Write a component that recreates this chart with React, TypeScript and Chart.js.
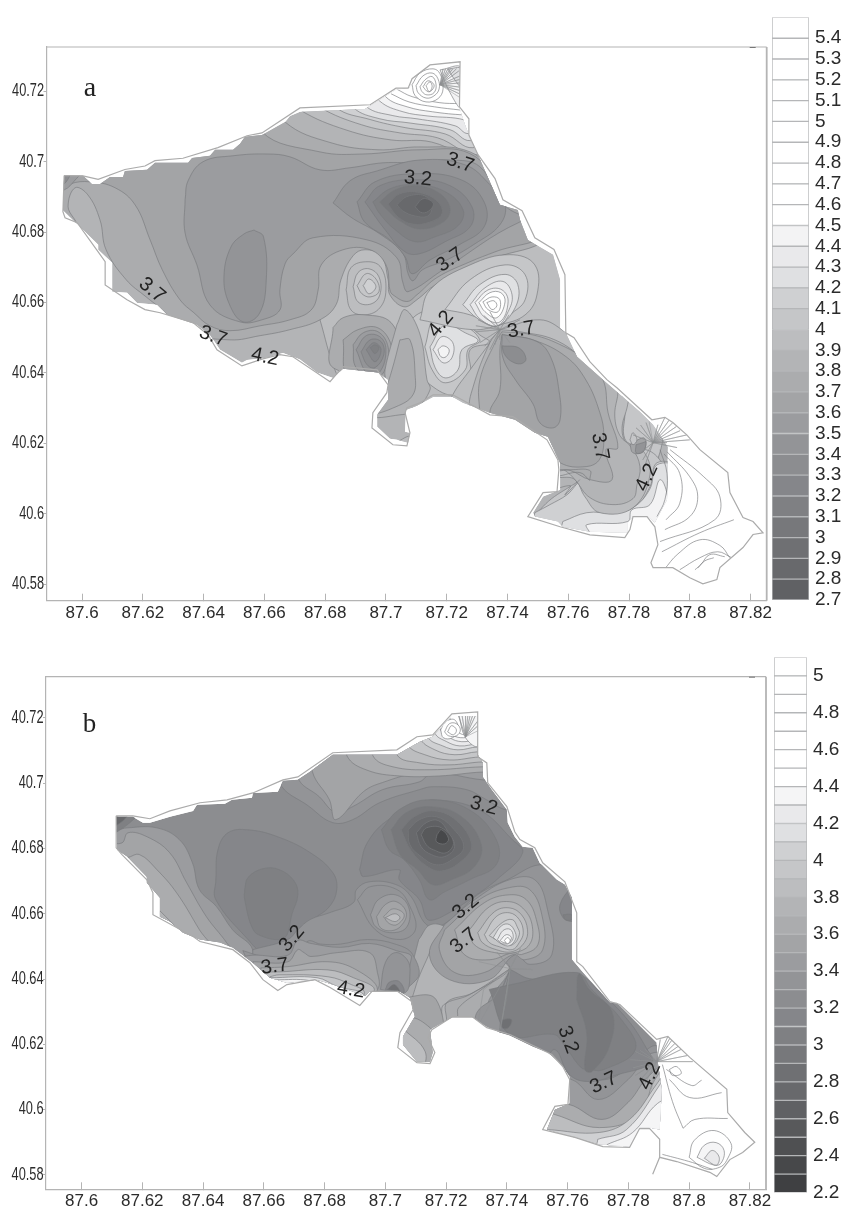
import React, { useEffect, useRef } from "react";
import { Chart, registerables } from "chart.js";

const lonTicks = [87.6, 87.62, 87.64, 87.66, 87.68, 87.7, 87.72, 87.74, 87.76, 87.78, 87.8, 87.82];
const latTicks = [40.58, 40.6, 40.62, 40.64, 40.66, 40.68, 40.7, 40.72];

const levelsA = [2.7,2.8,2.9,3,3.1,3.2,3.3,3.4,3.5,3.6,3.7,3.8,3.9,4,4.1,4.2,4.3,4.4,4.5,4.6,4.7,4.8,4.9,5,5.1,5.2,5.3,5.4];
const greysA = ["#606164","#68696c","#6f7073","#77787b","#7f8083","#85868a","#8c8d90","#939497","#9b9c9f","#a3a4a6","#abacae","#b3b4b6","#bcbdbf","#c5c6c8","#cfd0d2","#dfe0e2","#e9e9eb","#f3f3f4","#fff","#fff","#fff","#fff","#fff","#fff","#fff","#fff","#fff","#fff"];
const levelsB = [2.2,2.3,2.4,2.5,2.6,2.7,2.8,2.9,3,3.1,3.2,3.3,3.4,3.5,3.6,3.7,3.8,3.9,4,4.1,4.2,4.3,4.4,4.5,4.6,4.7,4.8,4.9,5];
const greysB = ["#3f4042","#47484a","#4f5052","#58595b","#606164","#68696c","#6f7073","#77787b","#7f8083","#85868a","#8c8d90","#939497","#9b9c9f","#a3a4a6","#abacae","#b3b4b6","#bcbdbf","#c5c6c8","#cfd0d2","#dfe0e2","#e9e9eb","#f5f5f6","#fff","#fff","#fff","#fff","#fff","#fff","#fff"];

const outlineA = [87.5941,40.6961,87.6003,40.696,87.6053,40.695,87.6141,40.6978,87.6207,40.6988,87.624,40.7003,87.6332,40.701,87.6447,40.704,87.6543,40.7074,87.6592,40.7082,87.6717,40.7153,87.6948,40.7162,87.7033,40.7209,87.7073,40.7209,87.7086,40.7236,87.7145,40.7275,87.7244,40.7284,87.7242,40.7156,87.7273,40.7122,87.7273,40.7076,87.7303,40.702,87.7359,40.6952,87.7385,40.6892,87.7448,40.6861,87.749,40.6784,87.7553,40.6751,87.7589,40.6679,87.7592,40.6514,87.7619,40.65,87.7671,40.6432,87.7727,40.6381,87.776,40.6358,87.7875,40.6267,87.7918,40.6274,87.7944,40.6259,87.799,40.6224,87.8033,40.6182,87.8125,40.6117,87.8132,40.606,87.8175,40.5989,87.8208,40.5978,87.8241,40.5946,87.8208,40.5941,87.8175,40.5904,87.8099,40.5847,87.8089,40.5813,87.8043,40.5801,87.8,40.5818,87.7944,40.5847,87.7879,40.5847,87.7872,40.5861,87.7895,40.5912,87.7885,40.5963,87.7859,40.5992,87.7813,40.5992,87.7803,40.5955,87.7786,40.5932,87.7671,40.594,87.7573,40.5963,87.7467,40.5992,87.7517,40.606,87.7563,40.6063,87.7569,40.6125,87.7566,40.6153,87.753,40.621,87.7418,40.6276,87.7342,40.6281,87.722,40.6338,87.7155,40.6338,87.7112,40.6315,87.7069,40.6301,87.7063,40.6287,87.7079,40.623,87.7069,40.6193,87.7023,40.6196,87.6954,40.6244,87.6957,40.6287,87.7003,40.6344,87.7007,40.6366,87.6971,40.6409,87.6859,40.6418,87.6816,40.6375,87.6694,40.6446,87.6651,40.6452,87.6595,40.644,87.6526,40.642,87.6444,40.6466,87.6415,40.6508,87.6365,40.6543,87.6257,40.6571,87.6207,40.658,87.6148,40.6608,87.6076,40.665,87.6076,40.6716,87.6053,40.6744,87.5984,40.6827,87.5944,40.6841,87.5937,40.6858,87.5941,40.6961];
const maskA = [87.5941,40.696,87.6003,40.696,87.6033,40.6937,87.6059,40.6937,87.6092,40.6957,87.6135,40.6957,87.6141,40.6974,87.6214,40.6977,87.624,40.6997,87.6349,40.6997,87.6362,40.7011,87.6421,40.7017,87.6438,40.7034,87.6497,40.7034,87.652,40.7051,87.6536,40.7071,87.6592,40.7076,87.6668,40.7113,87.6684,40.713,87.6717,40.7142,87.6931,40.715,87.6954,40.7162,87.7033,40.7204,87.7079,40.721,87.7086,40.7236,87.7145,40.7275,87.7244,40.7284,87.724,40.7156,87.726,40.7105,87.7273,40.7076,87.7303,40.702,87.7375,40.6878,87.7434,40.6863,87.7441,40.6835,87.7467,40.6778,87.755,40.6736,87.7573,40.6665,87.7573,40.6528,87.7592,40.6514,87.7629,40.6446,87.7714,40.6381,87.7836,40.629,87.7879,40.6253,87.7928,40.619,87.7925,40.604,87.7885,40.5975,87.7862,40.5992,87.7813,40.5992,87.7796,40.5975,87.7796,40.5946,87.7671,40.5949,87.7582,40.5963,87.7566,40.5978,87.749,40.5992,87.7484,40.6003,87.7517,40.6049,87.7573,40.6068,87.7573,40.6145,87.7533,40.6219,87.749,40.623,87.7425,40.6267,87.7342,40.6287,87.7253,40.6315,87.722,40.6332,87.7155,40.6332,87.7102,40.6307,87.7066,40.6295,87.7063,40.6233,87.7079,40.623,87.7073,40.6202,87.7036,40.621,87.7013,40.6213,87.6971,40.6247,87.6971,40.6281,87.7007,40.6324,87.7007,40.6381,87.6974,40.6401,87.6859,40.6412,87.6826,40.6386,87.6773,40.6401,87.6717,40.6438,87.6661,40.6457,87.6609,40.6443,87.6543,40.6437,87.6526,40.6429,87.6454,40.6466,87.6421,40.6508,87.6378,40.6537,87.628,40.6565,87.6247,40.6594,87.6181,40.6599,87.6148,40.6628,87.6099,40.6631,87.6099,40.6713,87.6053,40.675,87.6053,40.6764,87.5977,40.6829,87.5937,40.6863];
const outlineB = [87.6114,40.69,87.6169,40.69,87.6225,40.6891,87.6291,40.6915,87.639,40.694,87.6479,40.6949,87.6564,40.697,87.6663,40.701,87.6712,40.7019,87.6827,40.7093,87.7038,40.7102,87.7104,40.7142,87.7156,40.7148,87.7219,40.7212,87.7304,40.7218,87.7304,40.7081,87.7334,40.7062,87.7337,40.7001,87.74,40.6928,87.7426,40.6851,87.7443,40.6827,87.7492,40.6802,87.7518,40.6756,87.7591,40.6698,87.763,40.6603,87.763,40.6453,87.765,40.6438,87.7739,40.6331,87.7772,40.6322,87.7893,40.6215,87.793,40.6224,87.8002,40.616,87.8124,40.6062,87.8127,40.5991,87.8183,40.593,87.8216,40.59,87.8176,40.5869,87.8134,40.5847,87.8091,40.5795,87.8068,40.5808,87.7959,40.5841,87.7903,40.5854,87.788,40.5802,87.7903,40.5854,87.7903,40.5909,87.787,40.5942,87.7837,40.5942,87.7804,40.5884,87.7716,40.5887,87.7624,40.5915,87.7518,40.5939,87.7558,40.601,87.7601,40.6016,87.7607,40.6092,87.7584,40.6132,87.7548,40.6169,87.741,40.623,87.7334,40.6251,87.7285,40.6285,87.7222,40.6285,87.7153,40.6245,87.714,40.6221,87.7163,40.6175,87.7147,40.6141,87.7104,40.6144,87.7041,40.619,87.7048,40.6236,87.7091,40.6306,87.7087,40.6331,87.7041,40.6362,87.6956,40.6362,87.6916,40.6319,87.6818,40.6374,87.6768,40.6398,87.6676,40.6383,87.6646,40.6365,87.6597,40.6398,87.6554,40.645,87.6498,40.649,87.639,40.6515,87.6367,40.653,87.6235,40.6597,87.6235,40.6664,87.6215,40.6704,87.6133,40.6781,87.6114,40.6802,87.6114,40.69];
const maskB = [87.6114,40.6897,87.6169,40.6897,87.6202,40.6879,87.6225,40.6879,87.6291,40.6897,87.6367,40.6915,87.638,40.6934,87.6472,40.6937,87.6495,40.6949,87.6561,40.6955,87.6564,40.697,87.6646,40.6974,87.6663,40.7007,87.6712,40.701,87.6752,40.7035,87.6827,40.7087,87.7038,40.7087,87.7114,40.7127,87.7156,40.7142,87.7219,40.7206,87.7304,40.7206,87.7304,40.7087,87.7321,40.7062,87.7321,40.7019,87.735,40.698,87.74,40.6918,87.7403,40.6879,87.7426,40.6836,87.7452,40.6805,87.7485,40.6802,87.7508,40.6756,87.7564,40.6704,87.7591,40.6689,87.7614,40.6649,87.7614,40.646,87.765,40.642,87.7739,40.6328,87.7762,40.6328,87.7893,40.6206,87.7897,40.6144,87.791,40.6062,87.7903,40.5939,87.7867,40.5945,87.7837,40.5945,87.7804,40.5887,87.7706,40.5893,87.7624,40.5915,87.7532,40.5939,87.7558,40.6,87.7607,40.6019,87.7607,40.6101,87.7584,40.6132,87.7535,40.6175,87.7485,40.6193,87.741,40.6227,87.7377,40.6236,87.7334,40.6254,87.7288,40.6282,87.7219,40.6282,87.7156,40.6251,87.7147,40.6245,87.7153,40.6199,87.7156,40.6175,87.7147,40.6147,87.7104,40.6147,87.7058,40.6199,87.7058,40.6224,87.7097,40.6285,87.7081,40.6343,87.7048,40.6362,87.6949,40.6362,87.6933,40.6349,87.6827,40.6383,87.6775,40.6398,87.6676,40.6389,87.662,40.6404,87.6564,40.645,87.6498,40.6496,87.6456,40.6512,87.639,40.6521,87.6334,40.6542,87.6291,40.6576,87.6258,40.6591,87.6258,40.6649,87.6215,40.6695,87.6215,40.6713,87.615,40.6775,87.6117,40.6796];

// ---- panel a: contour polygons, [lon, lat, ...] ----
const aE39 = [87.6783,40.6551,87.6783,40.6636,87.6816,40.678,87.7046,40.678,87.7309,40.678,87.7524,40.6795,87.7655,40.661,87.7638,40.65,87.759,40.651,87.7507,40.6523,87.7375,40.6494,87.7277,40.6381,87.7211,40.6324,87.7112,40.6295,87.7046,40.6324,87.6865,40.637,87.6832,40.6409];
const aN39 = [87.6652,40.72,87.6717,40.7147,87.687,40.709,87.7017,40.7062,87.715,40.7056,87.7325,40.7,87.745,40.704,87.73,40.735,87.665,40.735];
const aN40 = [87.672,40.72,87.6783,40.7154,87.692,40.7105,87.7046,40.7082,87.717,40.7068,87.7303,40.702,87.74,40.71,87.73,40.735,87.672,40.735];
const aN41 = [87.68,40.722,87.6836,40.7154,87.6948,40.712,87.7063,40.7097,87.7195,40.7079,87.7286,40.704,87.74,40.71,87.73,40.735,87.68,40.735];
const aN42 = [87.685,40.722,87.6892,40.7154,87.698,40.7122,87.708,40.711,87.7211,40.7091,87.7277,40.706,87.74,40.71,87.73,40.735,87.685,40.735];
const aN43 = [87.69,40.722,87.6935,40.7157,87.7023,40.7131,87.7102,40.7122,87.7228,40.7102,87.727,40.708,87.74,40.71,87.73,40.735,87.69,40.735];
const aN44 = [87.695,40.722,87.698,40.7172,87.7056,40.7142,87.7138,40.713,87.7258,40.7119,87.727,40.71,87.74,40.712,87.73,40.735,87.695,40.735];
const aN45 = [87.697,40.724,87.7,40.7184,87.707,40.7156,87.7153,40.7142,87.7258,40.7133,87.74,40.713,87.73,40.735,87.697,40.735];
const aN46 = [87.7017,40.7193,87.7076,40.717,87.716,40.7156,87.7244,40.7147];
const aN47 = [87.7036,40.7206,87.7086,40.7185,87.7175,40.7168,87.7244,40.7165];
const aP38 = [87.58,40.7,87.6,40.72,87.6619,40.72,87.6668,40.7113,87.6819,40.7054,87.6974,40.7034,87.7112,40.7042,87.7277,40.7028,87.7375,40.695,87.7507,40.6835,87.7524,40.6778,87.7359,40.6727,87.7261,40.669,87.7162,40.665,87.7102,40.6608,87.7059,40.6588,87.7013,40.6622,87.7007,40.6665,87.6984,40.6733,87.6931,40.675,87.6892,40.6733,87.6852,40.6665,87.6836,40.6594,87.6783,40.6551,87.6684,40.6523,87.6586,40.6506,87.6487,40.6494,87.6336,40.6517,87.6264,40.6579,87.6211,40.6616,87.6145,40.6665,87.6079,40.675,87.6059,40.6835,87.6019,40.6906,87.5977,40.6926,87.5954,40.6872,87.5977,40.682,87.58,40.68];
const aP37 = [87.58,40.7,87.59,40.71,87.6586,40.72,87.6592,40.7085,87.6783,40.7028,87.6925,40.7022,87.7112,40.7034,87.7277,40.7023,87.7392,40.6918,87.7524,40.68,87.7359,40.6744,87.7277,40.6716,87.7168,40.6671,87.7102,40.6622,87.7069,40.6603,87.7023,40.6622,87.7013,40.6636,87.7,40.6707,87.6948,40.675,87.6859,40.675,87.6787,40.6707,87.6777,40.6636,87.6754,40.6579,87.6684,40.6551,87.6586,40.6534,87.6487,40.652,87.6421,40.6534,87.6368,40.6571,87.6322,40.6608,87.6264,40.6693,87.6224,40.6778,87.6175,40.6877,87.6109,40.6926,87.6026,40.6943,87.5961,40.6937,87.5928,40.6915,87.59,40.69];
const aP36 = [87.6339,40.6892,87.6349,40.6946,87.6398,40.7,87.6497,40.7017,87.6609,40.7022,87.6684,40.7014,87.6783,40.6977,87.6882,40.6983,87.6991,40.6997,87.7112,40.6997,87.7211,40.7005,87.7309,40.6986,87.7395,40.6872,87.7524,40.6826,87.7441,40.6829,87.7188,40.6693,87.7073,40.6631,87.7056,40.6656,87.7036,40.6727,87.6938,40.6778,87.676,40.6784,87.6694,40.6738,87.6668,40.671,87.6651,40.6636,87.6651,40.6579,87.6592,40.6551,87.652,40.6545,87.6421,40.6593,87.6378,40.6707,87.6339,40.6798];
const aD = [87.6566,40.6806,87.6597,40.6787,87.6606,40.6662,87.6583,40.6568,87.653,40.6545,87.6484,40.6597,87.6467,40.6673,87.649,40.6758,87.6533,40.6795];
const aR1 = [87.6826,40.6883,87.6882,40.6946,87.6971,40.6974,87.7112,40.7005,87.7261,40.6991,87.7342,40.6935,87.7392,40.6878,87.7375,40.6821,87.7293,40.6767,87.7198,40.672,87.712,40.6693,87.7089,40.6662,87.7073,40.6682,87.7056,40.6739,87.698,40.6795,87.6889,40.684];
const aR2 = [87.6905,40.6886,87.6964,40.6943,87.7099,40.6966,87.7247,40.6949,87.7323,40.6886,87.7323,40.6815,87.7241,40.6764,87.7145,40.6721,87.7086,40.6682,87.7063,40.673,87.7013,40.6778,87.693,40.6829];
const aR3 = [87.6931,40.6886,87.698,40.6932,87.7096,40.6949,87.7211,40.6932,87.7283,40.6872,87.7277,40.6815,87.7195,40.6773,87.7112,40.6739,87.7063,40.6744,87.6997,40.6807];
const aR4 = [87.6957,40.6886,87.7013,40.6923,87.7096,40.6935,87.7195,40.6915,87.7254,40.6863,87.7237,40.6818,87.7162,40.6787,87.7096,40.6773,87.703,40.6807,87.698,40.6852];
const aR5 = [87.698,40.6886,87.703,40.692,87.7105,40.6932,87.7178,40.6909,87.7211,40.6866,87.7188,40.6829,87.7112,40.6809,87.7046,40.6832,87.7007,40.6861];
const aR6 = [87.7007,40.688,87.7046,40.6909,87.7112,40.6912,87.7171,40.6886,87.7184,40.6852,87.7145,40.6829,87.7089,40.6823,87.704,40.6843];
const aR7 = [87.7036,40.6878,87.7069,40.6901,87.7128,40.6903,87.7151,40.6872,87.7138,40.6846,87.7096,40.6846,87.7056,40.686];
const aR8 = [87.7096,40.6872,87.7122,40.6895,87.7155,40.6883,87.7145,40.6863,87.7119,40.6855];
const aH3 = [87.6869,40.6636,87.6885,40.6699,87.6941,40.6716,87.6984,40.6699,87.7,40.6636,87.698,40.6585,87.6931,40.6565,87.6885,40.6579];
const aH4 = [87.6892,40.6645,87.6908,40.6685,87.6944,40.6696,87.6977,40.6673,87.698,40.6622,87.6951,40.6596,87.6908,40.6602];
const aH5 = [87.6905,40.6648,87.6935,40.6682,87.6967,40.6667,87.6977,40.6631,87.6948,40.6616,87.6921,40.6625];
const aH6 = [87.6925,40.6648,87.6944,40.6667,87.6967,40.6645,87.6944,40.6625];
const aC1 = [87.6826,40.6529,87.6859,40.6557,87.6931,40.6565,87.7017,40.6543,87.7046,40.6458,87.7023,40.6415,87.6826,40.6415];
const aC2 = [87.6859,40.6494,87.6908,40.6523,87.6974,40.6528,87.7017,40.648,87.7017,40.6415,87.699,40.6386,87.6876,40.6386];
const aC3 = [87.6892,40.648,87.6925,40.6514,87.6974,40.6517,87.7007,40.6474,87.7,40.6415,87.6967,40.6386,87.6902,40.6415];
const aC4 = [87.6902,40.6466,87.6935,40.6506,87.698,40.6503,87.7,40.6466,87.698,40.6403,87.6941,40.6395];
const aC5 = [87.6918,40.646,87.6948,40.6494,87.6984,40.6489,87.6993,40.6452,87.6964,40.6415,87.6938,40.6423];
const aC6 = [87.6935,40.6466,87.6961,40.6486,87.6984,40.6466,87.6964,40.6432];
const aC7 = [87.6948,40.6472,87.6964,40.648,87.6977,40.6472,87.6964,40.6455];
const aS1 = [87.7069,40.6474,87.7079,40.6545,87.7145,40.6579,87.7228,40.6565,87.7309,40.6508,87.7342,40.6486,87.7277,40.6466,87.7277,40.6395,87.7228,40.6338,87.7145,40.6367,87.7096,40.6423];
const aS2 = [87.7128,40.6474,87.7162,40.656,87.7228,40.6551,87.7309,40.6494,87.727,40.6466,87.7261,40.6409,87.7195,40.6372,87.7152,40.6409];
const aS3 = [87.7145,40.6474,87.7195,40.6537,87.7261,40.6514,87.7303,40.6491,87.725,40.6466,87.7237,40.6409,87.7195,40.6386,87.7162,40.6415];
const aS4 = [87.7155,40.6466,87.7184,40.6503,87.722,40.6486,87.7217,40.6443,87.7188,40.6429];
const aS5 = [87.7171,40.6466,87.7188,40.6477,87.7208,40.6466,87.7198,40.6446,87.7181,40.6446];
const aG1 = [87.7112,40.6551,87.7145,40.6636,87.7277,40.6707,87.7408,40.6736,87.749,40.6707,87.7497,40.6622,87.7458,40.6565,87.7375,40.6537,87.7286,40.6523];
const aG2 = [87.7194,40.658,87.7277,40.6665,87.7392,40.6707,87.7458,40.6679,87.7458,40.6608,87.7408,40.6565,87.7365,40.6534,87.7277,40.6565];
const aG3 = [87.7253,40.6594,87.7309,40.6651,87.7392,40.668,87.7434,40.6651,87.7425,40.6585,87.7365,40.6534,87.7303,40.6554];
const aG4 = [87.7277,40.6594,87.7326,40.6642,87.7385,40.666,87.7415,40.6622,87.7402,40.6574,87.7365,40.6534,87.7309,40.6554];
const aG5 = [87.7293,40.66,87.7336,40.6636,87.7382,40.6636,87.7402,40.6602,87.7375,40.6545,87.7326,40.6557];
const aG6 = [87.7306,40.66,87.7342,40.6628,87.7378,40.6628,87.7392,40.6602,87.7365,40.6557,87.7326,40.6574];
const aG7 = [87.7319,40.6602,87.7349,40.6616,87.7375,40.6608,87.7369,40.6574,87.7336,40.658];
const aG8 = [87.7332,40.66,87.7355,40.6605,87.7365,40.6591,87.7349,40.658];
const aY1 = [87.7036,40.6537,87.7063,40.658,87.7112,40.651,87.7135,40.6381,87.7145,40.6352,87.7096,40.6295,87.7046,40.6281,87.6948,40.6281,87.6997,40.6366,87.6997,40.6409];
const aY2 = [87.7046,40.6494,87.7079,40.6494,87.7096,40.6395,87.7089,40.6338,87.7033,40.6304,87.6954,40.6287,87.6997,40.6352,87.702,40.6409];
const aY3 = [87.6948,40.6247,87.6971,40.6241,87.7023,40.6204,87.7082,40.6219,87.7095,40.617,87.6948,40.617];
const aB1 = [87.7474,40.5955,87.7507,40.6011,87.7589,40.6068,87.7836,40.6182,87.7918,40.6125,87.7935,40.5926,87.7474,40.5926];
const aB2 = [87.749,40.6003,87.754,40.6026,87.7596,40.6054,87.7642,40.6091,87.7661,40.6054,87.7704,40.6011,87.7813,40.6017,87.7869,40.6077,87.7892,40.6145,87.7967,40.6125,87.7967,40.5926,87.7474,40.5926];
const aB3 = [87.7582,40.5978,87.7661,40.6003,87.7747,40.6003,87.7813,40.6017,87.7869,40.6071,87.7892,40.6139,87.7967,40.6125,87.7967,40.5926,87.7573,40.5926];
const aB4 = [87.7671,40.5946,87.7661,40.5969,87.7796,40.5978,87.7809,40.6011,87.7869,40.6026,87.7902,40.6097,87.7928,40.604,87.7918,40.5926,87.7671,40.5926];
const aQ = [87.777,40.6364,87.7902,40.6267,87.7908,40.6196,87.7869,40.6125,87.7836,40.6182,87.7786,40.6213,87.7786,40.6295];
const aF1 = [87.7375,40.6523,87.7507,40.6551,87.7589,40.6517,87.767,40.646,87.78,40.636,87.7796,40.6312,87.7777,40.6236,87.7803,40.6188,87.7846,40.6179,87.7869,40.6111,87.7813,40.6017,87.7704,40.6003,87.7655,40.6048,87.7622,40.6097,87.7573,40.6103,87.7556,40.6097,87.7556,40.6125,87.7507,40.6267,87.7342,40.63,87.7211,40.63,87.722,40.6338,87.7277,40.6409];
const aF2 = [87.7375,40.6523,87.7441,40.6517,87.7556,40.6494,87.7655,40.6437,87.7704,40.6398,87.776,40.6364,87.7753,40.6278,87.777,40.6222,87.7809,40.6188,87.7836,40.6134,87.7826,40.6082,87.7813,40.6043,87.7747,40.6026,87.7671,40.6046,87.7622,40.6097,87.7589,40.6123,87.7316,40.6267,87.7277,40.6295,87.7286,40.6358,87.7342,40.6486];
const aF3 = [87.7382,40.6517,87.7484,40.6508,87.7582,40.6477,87.7655,40.6437,87.7714,40.6381,87.7731,40.6287,87.7763,40.6187,87.7724,40.6182,87.7744,40.6097,87.7671,40.6097,87.7606,40.6123,87.755,40.6125,87.7316,40.6258,87.7309,40.6287,87.7309,40.638,87.7359,40.6486];
const aF4 = [87.7382,40.6509,87.7484,40.6494,87.7593,40.6446,87.7658,40.638,87.7704,40.6287,87.7717,40.6222,87.7704,40.6156,87.7659,40.6134,87.7573,40.6145,87.7375,40.6267,87.7342,40.6287,87.7375,40.6352,87.7375,40.6466];
const aF5 = [87.7382,40.6509,87.7497,40.6489,87.7543,40.6443,87.757,40.6347,87.7573,40.6267,87.755,40.6244,87.7507,40.6258,87.7484,40.6312,87.7428,40.6378,87.7385,40.6443];
const aF6 = [87.7382,40.6477,87.7438,40.6471,87.7461,40.644,87.7444,40.6426,87.7411,40.6434,87.7389,40.6455];
const aL1 = [87.7803,40.6196,87.7846,40.6216,87.7856,40.6204,87.7846,40.6176,87.7813,40.6173];
const aL2 = [87.7823,40.6196,87.7846,40.6202,87.7856,40.6204,87.7846,40.6176,87.7823,40.6173];
const aL3 = [87.7803,40.621,87.7813,40.623,87.7826,40.621,87.7813,40.6196];
const aW1 = [87.7442,40.6125,87.7606,40.6125,87.7671,40.6123,87.7671,40.6097];
const aW2 = [87.7573,40.6108,87.7638,40.6117,87.7671,40.6094];
const aW3 = [87.7507,40.6054,87.7606,40.608,87.7589,40.6054,87.7638,40.6097];
const aPk1 = [87.7086,40.7219,87.7112,40.7252,87.7155,40.7264,87.7178,40.725,87.7188,40.7207,87.7171,40.7179,87.7132,40.717,87.7096,40.7188];
const aPk2 = [87.7099,40.7216,87.7122,40.7244,87.7152,40.7252,87.7171,40.7236,87.7175,40.7207,87.7158,40.7187,87.7132,40.7181,87.7106,40.7196];
const aPk3 = [87.7112,40.7213,87.7129,40.7233,87.7152,40.7242,87.7165,40.7219,87.7158,40.7196,87.7135,40.719,87.7119,40.7199];
const aPk4 = [87.7122,40.7213,87.7138,40.723,87.7158,40.7219,87.7152,40.7204,87.7138,40.7199];
const aPk5 = [87.7132,40.7216,87.7145,40.7227,87.7152,40.7213,87.7142,40.7199];
const aWedge1 = [87.7178,40.7261,87.7248,40.7267,87.7248,40.7153,87.7211,40.7196];
const aWedge2 = [87.7204,40.7264,87.7248,40.7264,87.7248,40.7213,87.7224,40.7236];
const aSpk = [87.7178,40.7219,87.7188,40.7264,87.7178,40.7219,87.7196,40.7264,87.7178,40.7219,87.7204,40.7264,87.7178,40.7219,87.7212,40.7264,87.7178,40.7219,87.722,40.7264,87.7178,40.7219,87.7232,40.7264,87.7178,40.7219,87.724,40.7258,87.7178,40.7219,87.7244,40.7244,87.7178,40.7219,87.7244,40.7234,87.7178,40.7219,87.7244,40.7224,87.7178,40.7219,87.7244,40.7212,87.7178,40.7219,87.7244,40.7202,87.7178,40.7219,87.7244,40.7192,87.7178,40.7219,87.7244,40.7182];
const aFan = [87.7879,40.6202,87.7918,40.6274,87.7879,40.6202,87.7932,40.6266,87.7879,40.6202,87.7944,40.6259,87.7879,40.6202,87.7956,40.6248,87.7879,40.6202,87.7968,40.6236,87.7879,40.6202,87.799,40.6224,87.7879,40.6202,87.8,40.621,87.7879,40.6202,87.7925,40.6202,87.7879,40.6202,87.7958,40.6188,87.7879,40.6202,87.7856,40.6259,87.7879,40.6202,87.7838,40.6252,87.7879,40.6202,87.7823,40.6244,87.7879,40.6202,87.7813,40.6224,87.7879,40.6202,87.7836,40.6173,87.7879,40.6202,87.7845,40.6153,87.7879,40.6202,87.7852,40.6136,87.7879,40.6202,87.7895,40.6253,87.7879,40.6202,87.7866,40.6262];
const aFan2 = [87.7375,40.6523,87.7375,40.6494,87.7375,40.6523,87.7358,40.648,87.7375,40.6523,87.7342,40.6466,87.7375,40.6523,87.7325,40.6476,87.7375,40.6523,87.7309,40.6486,87.7375,40.6523,87.7296,40.6517,87.7375,40.6523,87.7296,40.6534,87.7375,40.6523,87.7303,40.6551,87.7375,40.6523,87.7322,40.6563,87.7375,40.6523,87.7342,40.6574,87.7375,40.6523,87.7405,40.6565,87.7375,40.6523,87.7441,40.6551,87.7375,40.6523,87.7408,40.6486];
const aLf1 = [87.7902,40.6182,87.7925,40.6114,87.7918,40.604,87.7892,40.5992];
const aLf2 = [87.7915,40.617,87.7967,40.6114,87.7967,40.603,87.7922,40.5983];
const aLf3 = [87.7925,40.6176,87.8,40.6105,87.8026,40.6048,87.8,40.5992,87.7918,40.5955];
const aLf4 = [87.7935,40.6182,87.8046,40.6105,87.8099,40.6048,87.8082,40.5983,87.7902,40.5921];
const aLf5 = [87.8145,40.5983,87.8033,40.5946,87.7908,40.5892];
const aLf6 = [87.8132,40.5875,87.8099,40.591,87.8033,40.5926,87.7961,40.5886,87.7915,40.5841];
const aLf7 = [87.8138,40.5875,87.8092,40.5892,87.8033,40.5875,87.7967,40.5841];
const aLf8 = [87.8115,40.5878,87.8066,40.5884,87.8036,40.5855,87.8017,40.5841];
const aLf9 = [87.8079,40.5875,87.8049,40.5866,87.8026,40.5846];
const aT1 = [87.59,40.698,87.6003,40.698,87.5977,40.6948,87.5941,40.692,87.59,40.692];
const aT2 = [87.59,40.698,87.5961,40.698,87.5941,40.6937,87.59,40.6937];

// ---- panel b: contour polygons ----
const bLa = [87.605,40.6857,87.6117,40.6857,87.615,40.6863,87.6248,40.6863,87.6322,40.6827,87.6365,40.6756,87.6388,40.6674,87.6444,40.6622,87.6497,40.6551,87.6563,40.649,87.6535,40.643,87.605,40.65];
const bLb = [87.608,40.682,87.6133,40.6817,87.6153,40.6848,87.6215,40.6836,87.629,40.6787,87.6346,40.6695,87.6411,40.6591,87.6477,40.6512,87.652,40.6446,87.605,40.65];
const bLc = [87.61,40.677,87.615,40.6772,87.6191,40.6781,87.6248,40.6735,87.6313,40.6664,87.6388,40.6551,87.6437,40.6475,87.608,40.65];
const bLd = [87.6258,40.6609,87.6322,40.6548,87.6372,40.6493,87.6224,40.6493];
const bCa = [87.605,40.6928,87.6191,40.6922,87.6117,40.6851,87.605,40.6842];
const bCb = [87.605,40.6928,87.6158,40.6922,87.6117,40.6872,87.605,40.6872];
const bCc = [87.605,40.6928,87.6125,40.6922,87.6117,40.6897,87.605,40.6897];
const bN1 = [87.6629,40.72,87.6651,40.7004,87.675,40.6928,87.6827,40.6879,87.6892,40.6888,87.6981,40.694,87.7112,40.698,87.7156,40.6989,87.7268,40.698,87.7333,40.6949,87.74,40.6918,87.76,40.69,87.74,40.735,87.66,40.735];
const bN2 = [87.6712,40.72,87.6712,40.7019,87.6783,40.6958,87.6837,40.691,87.6892,40.6928,87.6991,40.698,87.7112,40.7004,87.7156,40.7031,87.7321,40.701,87.75,40.7,87.74,40.735,87.67,40.735];
const bN3 = [87.6742,40.72,87.676,40.7035,87.6816,40.6949,87.6837,40.6888,87.6928,40.6974,87.6991,40.7002,87.7112,40.7032,87.7321,40.7041,87.75,40.704,87.74,40.735,87.67,40.735];
const bN4 = [87.685,40.72,87.6874,40.7083,87.6939,40.704,87.7046,40.7022,87.7178,40.7022,87.7321,40.7034,87.75,40.7034,87.74,40.735,87.68,40.735];
const bN5 = [87.694,40.72,87.6959,40.7084,87.7025,40.705,87.7147,40.7041,87.7321,40.705,87.75,40.705,87.74,40.735,87.69,40.735];
const bN6 = [87.702,40.72,87.7038,40.7087,87.7114,40.7062,87.7212,40.7056,87.7321,40.7065,87.75,40.7065,87.74,40.735,87.70,40.735];
const bN7 = [87.7055,40.72,87.7074,40.7117,87.713,40.7087,87.7212,40.7071,87.7311,40.708,87.75,40.708,87.74,40.735,87.70,40.735];
const bN8 = [87.71,40.725,87.7114,40.7139,87.7163,40.7102,87.7229,40.7087,87.7304,40.7096,87.745,40.7096,87.74,40.735,87.705,40.735];
const bN9 = [87.7125,40.725,87.714,40.7142,87.7189,40.7114,87.7239,40.7102,87.7304,40.7111,87.745,40.7111,87.74,40.735,87.71,40.735];
const bN10 = [87.715,40.725,87.7163,40.7154,87.7202,40.7127,87.7245,40.7114,87.7304,40.712,87.745,40.712,87.74,40.735,87.71,40.735];
const bN11 = [87.716,40.73,87.7179,40.7169,87.7212,40.7139,87.7252,40.7127,87.7304,40.7133,87.745,40.7133,87.74,40.735,87.712,40.735];
const bN12 = [87.718,40.73,87.7196,40.7188,87.7222,40.7148,87.7258,40.7139,87.7304,40.7148,87.745,40.7148,87.74,40.735,87.715,40.735];
const bN13 = [87.72,40.73,87.7212,40.72,87.7239,40.7157,87.7271,40.7148,87.7304,40.7163,87.745,40.7163,87.74,40.735,87.717,40.735];
const bWedge = [87.7241,40.7212,87.7304,40.7218,87.7304,40.7114,87.7264,40.7139];
const bPk1 = [87.7182,40.7163,87.7198,40.7188,87.7228,40.7194,87.724,40.7163,87.7221,40.7139,87.7191,40.7139];
const bPk2 = [87.7195,40.7157,87.7211,40.7182,87.7234,40.7182,87.7247,40.7163,87.7234,40.7145,87.7208,40.7145];
const bPk3 = [87.7205,40.7157,87.7218,40.7176,87.7234,40.7163,87.7224,40.7148];
const bSpk = [87.7264,40.7142,87.7241,40.7206,87.7264,40.7142,87.7252,40.721,87.7264,40.7142,87.7264,40.7212,87.7264,40.7142,87.7272,40.7212,87.7264,40.7142,87.728,40.7212,87.7264,40.7142,87.7288,40.7209,87.7264,40.7142,87.7296,40.7206,87.7264,40.7142,87.7304,40.719,87.7264,40.7142,87.7304,40.7175,87.7264,40.7142,87.7304,40.716];
const bC1 = [87.6442,40.6704,87.6449,40.6796,87.6482,40.6848,87.6548,40.6857,87.6645,40.6836,87.6753,40.6787,87.6827,40.6726,87.684,40.6674,87.6816,40.6622,87.676,40.6582,87.6719,40.6551,87.6653,40.649,87.6597,40.6482,87.6548,40.6521,87.6442,40.6643];
const bC2 = [87.6537,40.6674,87.6548,40.6711,87.6597,40.6738,87.6651,40.6735,87.6699,40.6701,87.6712,40.6658,87.6692,40.6597,87.6676,40.6535,87.6651,40.6521,87.6597,40.653,87.6565,40.6551,87.6537,40.6643];
const bR1 = [87.6915,40.6735,87.6941,40.6818,87.7013,40.689,87.7112,40.6928,87.7156,40.6949,87.7309,40.6918,87.7418,40.6827,87.7452,40.6787,87.7375,40.6711,87.7277,40.6643,87.7195,40.6595,87.7153,40.658,87.7135,40.6586,87.7112,40.6643,87.7046,40.6704,87.7046,40.6735,87.6928,40.6714];
const bR2 = [87.6987,40.6857,87.7046,40.6919,87.7145,40.6949,87.7277,40.6918,87.7365,40.6827,87.7365,40.675,87.7277,40.6704,87.7195,40.6667,87.7145,40.6643,87.7112,40.6704,87.7062,40.6765,87.7013,40.6796];
const bR3 = [87.7019,40.6857,87.7068,40.6909,87.7151,40.6928,87.7251,40.6897,87.7316,40.6811,87.7293,40.6744,87.7218,40.6704,87.7156,40.6689,87.7106,40.6735,87.7049,40.6781];
const bR4 = [87.7052,40.6857,87.7095,40.6897,87.7161,40.6915,87.7234,40.6885,87.7284,40.6811,87.7251,40.6762,87.7185,40.6731,87.7135,40.6747,87.7085,40.6793];
const bR5 = [87.7075,40.6857,87.7112,40.6888,87.7168,40.6897,87.7218,40.6866,87.7258,40.6805,87.7218,40.6765,87.7168,40.675,87.7118,40.6775,87.7081,40.6811];
const bR6 = [87.7102,40.6848,87.7135,40.6879,87.7175,40.6885,87.7208,40.6848,87.7228,40.6805,87.7195,40.6775,87.7152,40.6781,87.7118,40.6805];
const bR7 = [87.7118,40.6842,87.7135,40.6863,87.7185,40.6863,87.7224,40.682,87.7201,40.6787,87.7158,40.6796,87.7135,40.6811];
const bR8 = [87.717,40.6842,87.7185,40.6857,87.7208,40.683,87.7195,40.6814,87.7168,40.6821];
const bM1 = [87.6564,40.649,87.6679,40.6521,87.6712,40.6551,87.6752,40.6582,87.6816,40.6603,87.6895,40.6634,87.6905,40.6674,87.6948,40.6698,87.7036,40.6689,87.7085,40.6652,87.7135,40.6567,87.7191,40.6567,87.7304,40.6658,87.7401,40.6704,87.7525,40.675,87.77,40.668,87.77,40.635,87.7112,40.63,87.6564,40.635];
const bG2 = [87.7195,40.6567,87.7294,40.6643,87.7408,40.6704,87.7492,40.6704,87.7534,40.6612,87.7548,40.6475,87.7475,40.6445,87.7428,40.6475,87.7342,40.6398,87.7211,40.6398,87.7145,40.6475];
const bG3 = [87.7195,40.6551,87.7309,40.6643,87.7408,40.668,87.7475,40.6674,87.7515,40.6597,87.7518,40.649,87.7459,40.6459,87.7421,40.6475,87.7326,40.642,87.7228,40.642,87.7178,40.649];
const bG4 = [87.7228,40.6551,87.7326,40.6634,87.7408,40.6658,87.7464,40.6643,87.7497,40.6582,87.7502,40.6505,87.7448,40.6475,87.7421,40.6481,87.7342,40.6459,87.726,40.6475];
const bG5 = [87.7277,40.6551,87.7342,40.6621,87.7408,40.6637,87.7458,40.6612,87.7484,40.656,87.7474,40.6505,87.7425,40.6481,87.736,40.6481,87.7293,40.6505];
const bG6 = [87.7304,40.6542,87.7359,40.6606,87.7408,40.6618,87.7448,40.6597,87.7468,40.6551,87.7458,40.6512,87.7418,40.6484,87.7365,40.649,87.7319,40.6512];
const bG7 = [87.7326,40.6536,87.7365,40.6591,87.7408,40.6603,87.7441,40.6582,87.7454,40.6542,87.7441,40.6512,87.7418,40.649,87.7375,40.6499,87.7342,40.6512];
const bG8 = [87.7342,40.6533,87.7385,40.6573,87.7418,40.6582,87.7434,40.656,87.7441,40.6536,87.7418,40.6505,87.7382,40.6512];
const bG9 = [87.7355,40.6527,87.7382,40.6563,87.7408,40.6567,87.7428,40.6542,87.7428,40.6521,87.7408,40.6502,87.7382,40.6508];
const bG10 = [87.7369,40.6521,87.7388,40.6549,87.7411,40.6552,87.7421,40.653,87.7411,40.6512,87.7385,40.6508];
const bG11 = [87.7378,40.6518,87.7398,40.6536,87.7415,40.6527,87.7405,40.6512,87.7388,40.6512];
const bG12 = [87.7392,40.6518,87.7402,40.6527,87.7411,40.6518,87.7402,40.6508];
const bM2 = [87.711,40.6521,87.715,40.6567,87.7211,40.6551,87.7277,40.6475,87.7408,40.6438,87.7342,40.6337,87.7309,40.6245,87.7081,40.6215,87.7048,40.6306,87.7081,40.6417];
const bM3 = [87.715,40.649,87.7244,40.6475,87.7408,40.6438,87.7288,40.6358,87.7202,40.6328,87.7195,40.6264,87.7081,40.6264,87.7097,40.6368];
const bM4 = [87.7411,40.6432,87.7369,40.6352,87.7303,40.63,87.7303,40.6254,87.7378,40.6224,87.7378,40.6337];
const bFa = [87.7411,40.6432,87.7303,40.6358,87.7241,40.6312,87.7238,40.6285];
const bFb = [87.7411,40.6432,87.7277,40.6352,87.7192,40.6321,87.7185,40.6285];
const bPen1 = [87.7019,40.6337,87.7167,40.6337,87.7167,40.6123,87.7019,40.6123];
const bPen2 = [87.7048,40.6245,87.7081,40.6282,87.7147,40.6251,87.7167,40.6215,87.7167,40.6123,87.7019,40.6123,87.7019,40.6215];
const bPen3 = [87.7055,40.6251,87.7131,40.6178,87.7114,40.6123,87.7019,40.6123,87.7019,40.6202];
const bV1 = [87.6984,40.6368,87.7,40.645,87.7033,40.6481,87.7072,40.6459,87.7081,40.6419,87.7065,40.6358];
const bV2 = [87.7,40.6368,87.7013,40.639,87.7046,40.6392,87.706,40.6358];
const bV3 = [87.7007,40.6368,87.7029,40.6383,87.7046,40.6362];
const bH1 = [87.6908,40.6643,87.6951,40.6683,87.7038,40.6674,87.7081,40.6622,87.7099,40.6551,87.7049,40.6521,87.6967,40.6551];
const bH2 = [87.6951,40.6597,87.6977,40.6643,87.7033,40.6658,87.7076,40.6622,87.7071,40.656,87.7022,40.6542,87.6969,40.656];
const bH3 = [87.6971,40.6591,87.7,40.6628,87.7036,40.6637,87.7069,40.6603,87.7052,40.6563,87.7019,40.6548,87.6984,40.6557];
const bH4 = [87.6994,40.6591,87.7026,40.6615,87.7062,40.6597,87.7039,40.6567,87.7013,40.657];
const bH5 = [87.7,40.6588,87.7032,40.66,87.7048,40.6588,87.7032,40.6576];
const bS1 = [87.6531,40.6487,87.6597,40.647,87.6712,40.647,87.6745,40.6516,87.6787,40.6507,87.6852,40.6507,87.6941,40.6521,87.7036,40.6506,87.709,40.6475,87.7104,40.64,87.6948,40.633,87.658,40.64];
const bS2 = [87.6515,40.6465,87.6564,40.6473,87.6679,40.6473,87.6712,40.6518,87.6755,40.6509,87.6852,40.6497,87.6948,40.6509,87.7036,40.6487,87.7086,40.6465,87.7,40.633,87.658,40.64];
const bS3 = [87.6564,40.6453,87.6679,40.6453,87.6712,40.649,87.6732,40.6481,87.6755,40.6469,87.6842,40.6481,87.6948,40.6481,87.6974,40.642,87.6974,40.6368,87.69,40.633,87.658,40.64];
const bS4 = [87.659,40.6434,87.6679,40.6438,87.6811,40.6453,87.6903,40.6429,87.6974,40.6368,87.69,40.633,87.66,40.638];
const bS5 = [87.66,40.6422,87.6651,40.6422,87.6811,40.6428,87.6895,40.6404,87.6964,40.6368,87.69,40.633,87.662,40.638];
const bS6 = [87.662,40.6407,87.6651,40.6413,87.6811,40.6407,87.6888,40.6383,87.6931,40.636,87.69,40.633,87.665,40.636];
const bS7 = [87.662,40.6404,87.6775,40.6404,87.6842,40.6377,87.693,40.6352,87.692,40.63,87.665,40.635];
const bS8 = [87.6636,40.6398,87.6752,40.6395,87.6818,40.6368,87.6915,40.6337,87.692,40.63,87.665,40.635];
const bEa = [87.7411,40.6429,87.7484,40.64,87.7632,40.6415,87.7698,40.6368,87.7797,40.6276,87.7862,40.6184,87.7878,40.6144,87.7764,40.6107,87.7671,40.6086,87.7606,40.6107,87.7558,40.6184,87.7509,40.6138,87.7377,40.6184,87.7377,40.6245,87.7387,40.6337];
const bEb = [87.7342,40.6368,87.7415,40.6383,87.763,40.642,87.7679,40.6368,87.7777,40.6276,87.7823,40.6184,87.772,40.6123,87.7671,40.6123,87.7644,40.6129,87.7588,40.6199,87.7555,40.623,87.741,40.623];
const bEc = [87.763,40.6337,87.7663,40.6233,87.7657,40.6123,87.768,40.6117,87.7737,40.6193,87.7746,40.63,87.7671,40.6368,87.7637,40.6415];
const bEd = [87.7385,40.6276,87.7415,40.6276,87.7405,40.6251,87.7385,40.6251];
const bBl1 = [87.7614,40.6686,87.7575,40.6628,87.7585,40.6588,87.7614,40.6576,87.77,40.657,87.77,40.669];
const bBl2 = [87.7585,40.6597,87.7614,40.6597,87.7614,40.6582,87.7592,40.6582];
const bQ2 = [87.7535,40.6138,87.7664,40.6098,87.7749,40.6098,87.7838,40.6165,87.7893,40.6196,87.795,40.615,87.795,40.5878,87.745,40.5878];
const bQ3 = [87.755,40.6078,87.7614,40.6092,87.77,40.6031,87.7799,40.6092,87.7875,40.6172,87.795,40.615,87.795,40.5878,87.745,40.5878];
const bQ4 = [87.75,40.6016,87.7604,40.6016,87.7713,40.597,87.7799,40.6022,87.7866,40.6102,87.795,40.615,87.795,40.5878,87.745,40.5878];
const bQ5 = [87.7499,40.6,87.7558,40.5985,87.7704,40.5945,87.7837,40.5985,87.7886,40.609,87.795,40.615,87.795,40.5878,87.745,40.5878];
const bQ6 = [87.7499,40.5939,87.7532,40.5939,87.7704,40.593,87.7804,40.597,87.7893,40.6078,87.795,40.615,87.795,40.5878,87.745,40.5878];
const bQ7 = [87.7699,40.5909,87.7794,40.5939,87.7902,40.6074,87.795,40.615,87.795,40.5878,87.7699,40.5878];
const bQ8 = [87.773,40.5893,87.7814,40.593,87.7896,40.6019,87.795,40.603,87.795,40.5878,87.773,40.5878];
const bW1 = [87.7912,40.6138,87.7945,40.6025,87.798,40.5943];
const bW2 = [87.7935,40.6092,87.8002,40.6037,87.8107,40.6052];
const bW3 = [87.7925,40.6123,87.8008,40.6074,87.8041,40.609];
const bWL = [87.7935,40.6123,87.7958,40.6132,87.7974,40.6111,87.7945,40.6105,87.7935,40.6123];
const bW4 = [87.7912,40.5863,87.8011,40.5838,87.8076,40.5817];
const bW5 = [87.798,40.5943,87.8019,40.597,87.8127,40.5973];
const bPkA1 = [87.8,40.5854,87.8017,40.5906,87.8082,40.5936,87.8138,40.5896,87.8124,40.5845,87.8099,40.5823,87.805,40.582];
const bPkA2 = [87.8026,40.5854,87.805,40.5891,87.8089,40.5899,87.8115,40.5875,87.8105,40.5836,87.8082,40.583];
const bPkA3 = [87.805,40.5851,87.8076,40.5875,87.8099,40.5854,87.8089,40.583];
const bFan = [87.7893,40.6147,87.793,40.6224,87.7893,40.6147,87.7938,40.6221,87.7893,40.6147,87.7947,40.6218,87.7893,40.6147,87.796,40.6209,87.7893,40.6147,87.797,40.6198,87.7893,40.6147,87.7979,40.6187,87.7893,40.6147,87.7996,40.6166,87.7893,40.6147,87.8012,40.6147,87.7893,40.6147,87.7905,40.6215,87.7893,40.6147,87.7853,40.6187,87.7893,40.6147,87.7838,40.6182,87.7893,40.6147,87.7823,40.6178,87.7893,40.6147,87.7806,40.6153,87.7893,40.6147,87.7815,40.6128,87.7893,40.6147,87.7823,40.6105,87.7893,40.6147,87.7838,40.609,87.7893,40.6147,87.7853,40.6077,87.7893,40.6147,87.7876,40.6062];
const bFan2 = [87.7411,40.6432,87.7398,40.6337,87.7378,40.6245,87.7411,40.6432,87.7385,40.6276,87.7411,40.6432,87.7323,40.6367,87.7303,40.6254,87.7411,40.6432,87.7484,40.6429,87.7411,40.6432,87.7368,40.6482,87.7411,40.6432,87.7445,40.6493,87.7411,40.6432,87.7308,40.6453];
const bFan3 = [87.8091,40.5795,87.8141,40.581,87.8091,40.5795,87.8148,40.5798,87.8091,40.5795,87.8141,40.5783,87.8091,40.5795,87.8035,40.5804,87.8091,40.5795,87.8068,40.5808];

const labelsA: [string, number, number, number][] = [["3.7",87.7244,40.6997,18],["3.2",87.7105,40.6952,5],["3.7",87.7211,40.6721,-35],["3.7",87.623,40.6635,40],["3.7",87.6431,40.6504,20],["4.2",87.6602,40.6445,12],["4.2",87.7181,40.6539,-50],["3.7",87.7445,40.6522,-10],["3.7",87.7704,40.6191,80],["4.2",87.7859,40.6103,-65]];
const labelsB: [string, number, number, number][] = [["3.2",87.7324,40.693,15],["3.2",87.7265,40.6621,-40],["3.7",87.7258,40.6517,-40],["3.7",87.6636,40.6438,-8],["3.2",87.6693,40.6524,-50],["4.2",87.6887,40.6367,10],["3.2",87.7601,40.6214,70],["3.7",87.7719,40.6082,-25],["4.2",87.7871,40.6103,-65]];

type Sh = [number[], number | null, string?];
// painter's order, first is underneath; "o" clips to the outline, "n" = straight thin spokes
const shapesA: Sh[] = [
  [aE39,3.9],[aN39,3.9],[aN40,4],[aN41,4.1],[aN42,4.2],[aN43,4.3],[aN44,4.4],[aN45,4.5],[aN46,null],[aN47,null],
  [aWedge1,4.4],[aWedge2,4.2],[aPk1,4.6],[aPk2,4.6],[aPk3,4.6],[aPk4,4.6],[aPk5,4.6],
  [aSpk,null,"n"],
  [aP38,3.7],[aP37,3.6],[aP36,3.5],[aD,3.4],
  [aR1,3.4],[aR2,3.3],[aR3,3.2],[aR4,3.1],[aR5,3],[aR6,2.9],[aR7,2.8],[aR8,2.7],
  [aH3,3.9],[aH4,4],[aH5,4],[aH6,4.1],
  [aC1,3.7],[aC2,3.6],[aC3,3.5],[aC4,3.4],[aC5,3.3],[aC6,3.2],[aC7,3.1],
  [aS1,4],[aS2,4.1],[aS3,4.2],[aS4,4.3],[aS5,4.4],
  [aG1,4],[aG2,4.1],[aG3,4.2],[aG4,4.3],[aG5,4.4],[aG6,4.5],[aG7,4.6],[aG8,4.7],
  [aY1,3.8],[aY2,3.7],[aY3,3.9],[aQ,4],
  [aB1,4],[aB2,4.1],[aB3,4.2],[aB4,4.4],
  [aF1,3.9],[aF2,3.8],[aF3,3.7],[aF4,3.6],[aF5,3.5],[aF6,3.3],
  [aL1,3.6],[aL2,3.4],[aL3,4],[aW1,null],[aW2,null],[aW3,null],[aT1,3.5],[aT2,3.3],
  [aFan2,null,"n"],[aFan,null,"on"],
  [aLf1,null,"o"],[aLf2,null,"o"],[aLf3,null,"o"],[aLf4,null,"o"],[aLf5,null,"o"],[aLf6,null,"o"],[aLf7,null,"o"],[aLf8,null,"o"],[aLf9,null,"o"],
];
const shapesB: Sh[] = [
  [bLa,3.4],[bLb,3.5],[bLc,3.6],[bLd,3.7],[bCa,3],[bCb,2.7],[bCc,2.3],
  [bN1,3.3],[bN2,3.4],[bN3,3.5],[bN4,3.6],[bN5,3.7],[bN6,3.8],[bN7,3.9],[bN8,4],[bN9,4.1],[bN10,4.2],[bN11,4.3],[bN12,4.4],[bN13,4.5],
  [bWedge,4.3],[bPk1,4.6],[bPk2,4.6],[bPk3,4.6],
  [bSpk,null,"n"],
  [bC1,3.1],[bC2,3],
  [bR1,3.1],[bR2,3],[bR3,2.9],[bR4,2.8],[bR5,2.7],[bR6,2.6],[bR7,2.5],[bR8,2.3],
  [bM1,3.3],[bM2,3.6],[bM3,3.7],[bM4,3.3],
  [bG2,3.4],[bG3,3.5],[bG4,3.6],[bG5,3.7],[bG6,3.8],[bG7,3.9],[bG8,4],[bG9,4.1],[bG10,4.2],[bG11,4.3],[bG12,4.4],
  [bFa,null],[bFb,null],
  [bPen1,3.5],[bPen2,3.6],[bPen3,3.8],
  [bS1,3.3],[bS2,3.4],[bS3,3.5],[bS4,3.6],[bS5,3.8],[bS6,3.9],[bS7,4.1],[bS8,4.3],
  [bV1,3.3],[bV2,3.1],[bV3,2.8],
  [bH1,3.3],[bH2,3.4],[bH3,3.5],[bH4,3.6],[bH5,3.8],
  [bQ2,3.3],[bQ3,3.4],[bQ4,3.6],[bQ5,3.8],[bQ6,4],[bQ7,4.2],[bQ8,4.3],
  [bEa,3.1],[bEb,3],[bEc,2.9],[bEd,2.8],[bBl1,3.1],[bBl2,3],
  [bFan2,null,"n"],[bFan,null,"on"],[bFan3,null,"on"],
  [bPkA1,4.4,"o"],[bPkA2,4.3,"o"],[bPkA3,4.2,"o"],
  [bW1,null,"o"],[bW2,null,"o"],[bW3,null,"o"],[bWL,null,"o"],[bW4,null,"o"],[bW5,null,"o"],
];

Chart.register({
  id: "maskClip",
  beforeDatasetDraw(chart: any, args: any) {
    const poly = chart.data.datasets[args.index].clipPoly;
    if (!poly) return;
    const { x, y } = chart.scales;
    const c = chart.ctx;
    c.save();
    c.beginPath();
    for (let i = 0; i < poly.length; i += 2) {
      const px = x.getPixelForValue(poly[i]);
      const py = y.getPixelForValue(poly[i + 1]);
      if (i === 0) c.moveTo(px, py); else c.lineTo(px, py);
    }
    c.closePath();
    c.clip();
  },
  afterDatasetDraw(chart: any, args: any) {
    if (chart.data.datasets[args.index].clipPoly) chart.ctx.restore();
  },
} as any);
Chart.register(...registerables);

const toPts = (f: number[]) => { const o = []; for (let i = 0; i < f.length; i += 2) o.push({ x: f[i], y: f[i + 1] }); return o; };

const frameAndText = {
  id: "frameAndText",
  afterDatasetsDraw(chart: any) {
    const { x, y } = chart.scales;
    const { left, right, top, bottom } = chart.chartArea;
    const c = chart.ctx;
    c.save();
    c.strokeStyle = "#b4b4b4"; c.lineWidth = 1.2;
    c.beginPath(); c.moveTo(left, top); c.lineTo(right, top); c.stroke();
    c.lineWidth = 1.8;
    c.beginPath(); c.moveTo(right, top); c.lineTo(right, bottom); c.stroke();
    c.strokeStyle = "#777"; c.lineWidth = 1;
    c.beginPath(); c.moveTo(right - 17, top + 0.5); c.lineTo(right - 11, top + 0.5); c.stroke();
    c.fillStyle = "#222"; c.textAlign = "center"; c.textBaseline = "middle";
    const o = chart.options.plugins.frameAndText;
    for (const [t, lon, lat, rot] of o.labels) {
      c.save();
      c.translate(x.getPixelForValue(lon), y.getPixelForValue(lat));
      c.rotate((rot * Math.PI) / 180);
      c.font = '20px "Liberation Sans"';
      c.fillText(t, 0, 0);
      c.restore();
    }
    c.font = `${o.panelSize}px "Liberation Serif"`;
    c.fillText(o.panel, x.getPixelForValue(87.6026), y.getPixelForValue(o.panelLat));
    // condensed latitude labels
    c.textAlign = "right"; c.fillStyle = "#2b2b2b"; c.font = '17.5px "Liberation Sans"';
    for (const v of latTicks) {
      c.save();
      c.translate(left - 2.5, y.getPixelForValue(v));
      c.scale(0.73, 1);
      c.fillText(String(v), 0, 0);
      c.restore();
    }
    c.restore();
  },
};

function mapConfig(p: any) {
  const grey = (b: number) => p.greys[p.levels.findIndex((l: number) => Math.abs(l - b) < 0.01)];
  const datasets: any[] = [
    { data: toPts(p.mask), showLine: true, pointRadius: 0, borderWidth: 0, borderColor: "transparent", backgroundColor: grey(p.base), fill: "shape", tension: 0, clipPoly: p.mask },
  ];
  for (const [arr, band, mode] of p.shapes as Sh[]) {
    const pts = toPts(arr);
    if (band !== null) pts.push(pts[0]);
    const spoke = !!mode && mode.includes("n");
    datasets.push({
      data: pts, showLine: true, pointRadius: 0, borderWidth: spoke ? 0.5 : 0.65, borderColor: spoke ? "#8f9092" : "#797a7d",
      backgroundColor: band !== null ? grey(band) : "transparent", fill: band !== null ? "shape" : false,
      tension: spoke ? 0 : 0.4,
      clipPoly: mode && mode.includes("o") ? p.outline : p.mask,
    });
  }
  datasets.push({ data: toPts(p.outline), showLine: true, pointRadius: 0, borderColor: "#ababab", borderWidth: 1.2, tension: 0, fill: false });
  datasets.forEach((d, i) => { d.order = -i; });
  return {
    type: "scatter",
    data: { datasets },
    plugins: [frameAndText],
    options: {
      animation: false, responsive: false,
      layout: { padding: p.padding },
      plugins: { legend: { display: false }, tooltip: { enabled: false }, frameAndText: { labels: p.labels, panel: p.panel, panelLat: p.panelLat, panelSize: p.panelSize } },
      scales: {
        x: {
          type: "linear", min: 87.5883, max: 87.8253,
          afterBuildTicks: (s: any) => { s.ticks = lonTicks.map((v) => ({ value: v })); },
          afterFit: (s: any) => { s.height = p.xAxisH; },
          ticks: { autoSkip: false, maxRotation: 0, padding: 9, color: "#2b2b2b", font: { family: "Liberation Sans", size: 17 }, callback: (v: number) => String(+(+v).toFixed(2)) },
          grid: { drawOnChartArea: false, drawTicks: true, tickLength: -7, tickColor: "#b4b4b4" },
          border: { color: "#b4b4b4", width: 1.2 },
        },
        y: {
          type: "linear", min: p.latMin, max: 40.7326,
          afterBuildTicks: (s: any) => { s.ticks = latTicks.map((v) => ({ value: v })); },
          afterFit: (s: any) => { s.width = p.yAxisW; },
          ticks: { display: false },
          grid: { drawOnChartArea: false, drawTicks: true, tickLength: 3, tickColor: "#b4b4b4" },
          border: { color: "#b4b4b4", width: 1.2 },
        },
      },
    },
  };
}

function barConfig(levels: number[], greys: string[], p: any) {
  return {
    type: "bar",
    data: {
      labels: [""],
      datasets: levels.map((lo, i) => ({
        data: [[lo, +(lo + 0.1).toFixed(1)]], backgroundColor: greys[i], borderColor: "#b5b6b8", borderWidth: 1, borderSkipped: false,
        barPercentage: 1, categoryPercentage: 1, grouped: false,
      })),
    },
    options: {
      animation: false, responsive: false,
      layout: { padding: p.padding },
      plugins: { legend: { display: false }, tooltip: { enabled: false } },
      scales: {
        x: { display: false },
        y: {
          position: "right", min: levels[0], max: +(levels[levels.length - 1] + 0.1).toFixed(1),
          afterBuildTicks: (s: any) => { s.ticks = levels.map((v) => ({ value: v })); },
          afterFit: (s: any) => { s.width = p.axisW; },
          grid: { display: false, drawTicks: false }, border: { display: false },
          ticks: { autoSkip: false, padding: p.tickPad, color: "#2b2b2b", font: { family: "Liberation Sans", size: 19 }, callback: p.label },
        },
      },
    },
  };
}

function Cv({ cfg, style, w, h }: any) {
  const ref = useRef<HTMLCanvasElement>(null);
  useEffect(() => {
    const ch = new Chart(ref.current as any, cfg);
    return () => ch.destroy();
  }, []);
  return <canvas ref={ref} width={w} height={h} style={{ position: "absolute", display: "block", width: w, height: h, ...style }} />;
}

const cfgA = mapConfig({ outline: outlineA, mask: maskA, shapes: shapesA, levels: levelsA, greys: greysA, base: 3.8, labels: labelsA, panel: "a", panelLat: 40.7207, panelSize: 28, padding: { left: 0, top: 47, right: 33.3, bottom: 0 }, xAxisH: 19.3, yAxisW: 46.5, latMin: 40.5753 });
const cfgB = mapConfig({ outline: outlineB, mask: maskB, shapes: shapesB, levels: levelsB, greys: greysB, base: 3.2, labels: labelsB, panel: "b", panelLat: 40.7179, panelSize: 27, padding: { left: 0, top: 46.7, right: 34, bottom: 0 }, xAxisH: 20.7, yAxisW: 46, latMin: 40.5756 });
const barA = barConfig(levelsA, greysA, { padding: { left: 7, top: 11.5, right: 0, bottom: 20 }, axisW: 37, tickPad: 6, label: (v: number) => String(+(+v).toFixed(1)) });
const barB = barConfig(levelsB, greysB, { padding: { left: 9, top: 17.4, right: 0, bottom: 12 }, axisW: 39, tickPad: 6, label: (v: number) => (Math.round(v * 10) % 2 === 0 ? String(+(+v).toFixed(1)) : "") });

export default function App() {
  return (
    <div style={{ position: "absolute", left: 0, top: 0, width: 846, height: 1210, background: "#fff", overflow: "hidden" }}>
      <Cv cfg={cfgA} w={800} h={620} style={{ left: 0, top: 0 }} />
      <Cv cfg={cfgB} w={800} h={580} style={{ left: 0, top: 630 }} />
      <Cv cfg={barA} w={81} h={620} style={{ left: 765, top: 0 }} />
      <Cv cfg={barB} w={81} h={570} style={{ left: 765, top: 640 }} />
    </div>
  );
}
